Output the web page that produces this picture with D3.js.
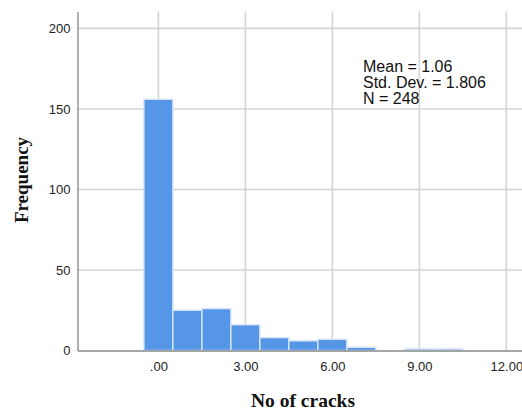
<!DOCTYPE html>
<html>
<head>
<meta charset="utf-8">
<script src="https://cdn.jsdelivr.net/npm/d3@7"></script>
<style>
  html, body { margin: 0; padding: 0; background: #fff; }
  svg { display: block; }
</style>
</head>
<body>
<div id="chart"></div>
<script>
// Histogram of crack counts: one bin per integer value
const binCenters = [0, 1, 2, 3, 4, 5, 6, 7, 8, 9, 10];
const frequencies = [156, 25, 26, 16, 8, 6, 7, 2, 0, 1, 1];
const xTicks = [0, 3, 6, 9, 12];
const xTickLabels = [".00", "3.00", "6.00", "9.00", "12.00"];
const yTicks = [0, 50, 100, 150, 200];
const statsLines = ["Mean = 1.06", "Std. Dev. = 1.806", "N = 248"];
const xTitle = "No of cracks";
const yTitle = "Frequency";

const W = 522, H = 410;
const plot = { left: 77.5, right: 522, top: 11.5, bottom: 350.5 };

const svg = d3.select("#chart").append("svg")
  .attr("width", W).attr("height", H);

const x = d3.scaleLinear().domain([-2.79, 12.54]).range([plot.left, plot.right]);
const y = d3.scaleLinear().domain([0, 210.5]).range([plot.bottom, plot.top]);

const sans = "'Liberation Sans', Arial, sans-serif";
const serif = "'Liberation Serif', 'Times New Roman', serif";

// gridlines
const grid = svg.append("g").attr("stroke", "#d4d4d4").attr("stroke-width", 1.6);
grid.selectAll("line.h").data(yTicks.filter(d => d > 0)).join("line")
  .attr("x1", plot.left).attr("x2", plot.right)
  .attr("y1", d => y(d)).attr("y2", d => y(d));
grid.selectAll("line.v").data(xTicks).join("line")
  .attr("x1", d => x(d)).attr("x2", d => x(d))
  .attr("y1", plot.top).attr("y2", plot.bottom);

// bars
const bins = binCenters.map((c, i) => ({ c, f: frequencies[i] })).filter(d => d.f > 0);
svg.append("g").selectAll("rect").data(bins).join("rect")
  .attr("x", d => x(d.c - 0.5))
  .attr("width", d => x(d.c + 0.5) - x(d.c - 0.5))
  .attr("y", d => y(d.f))
  .attr("height", d => y(0) - y(d.f))
  .attr("fill", "#5596e6")
  .attr("stroke", "#d8e6f9")
  .attr("stroke-width", 1.4);

// axes
const xAxis = d3.axisBottom(x).tickValues(xTicks)
  .tickFormat((d, i) => xTickLabels[i]).tickSize(0).tickPadding(11);
const yAxis = d3.axisLeft(y).tickValues(yTicks).tickSize(0).tickPadding(7);

const gx = svg.append("g").attr("transform", `translate(0,${plot.bottom})`).call(xAxis);
const gy = svg.append("g").attr("transform", `translate(${plot.left},0)`).call(yAxis);
[gx, gy].forEach(g => {
  g.select(".domain").attr("stroke", "#888").attr("stroke-width", 1.3);
  g.selectAll("text").attr("font-family", sans).attr("font-size", 13).attr("fill", "#222");
});

// axis titles
svg.append("text")
  .attr("x", 303).attr("y", 406.5)
  .attr("text-anchor", "middle")
  .attr("font-family", serif).attr("font-weight", "bold").attr("font-size", 19.5)
  .attr("fill", "#111")
  .text(xTitle);

svg.append("text")
  .attr("transform", "translate(27.5,180) rotate(-90)")
  .attr("text-anchor", "middle")
  .attr("font-family", serif).attr("font-weight", "bold").attr("font-size", 19)
  .attr("fill", "#111")
  .text(yTitle);

// summary statistics
svg.append("g").selectAll("text").data(statsLines).join("text")
  .attr("x", 363).attr("y", (d, i) => 72 + i * 16)
  .attr("font-family", sans).attr("font-size", 16).attr("fill", "#111")
  .text(d => d);
</script>
</body>
</html>
